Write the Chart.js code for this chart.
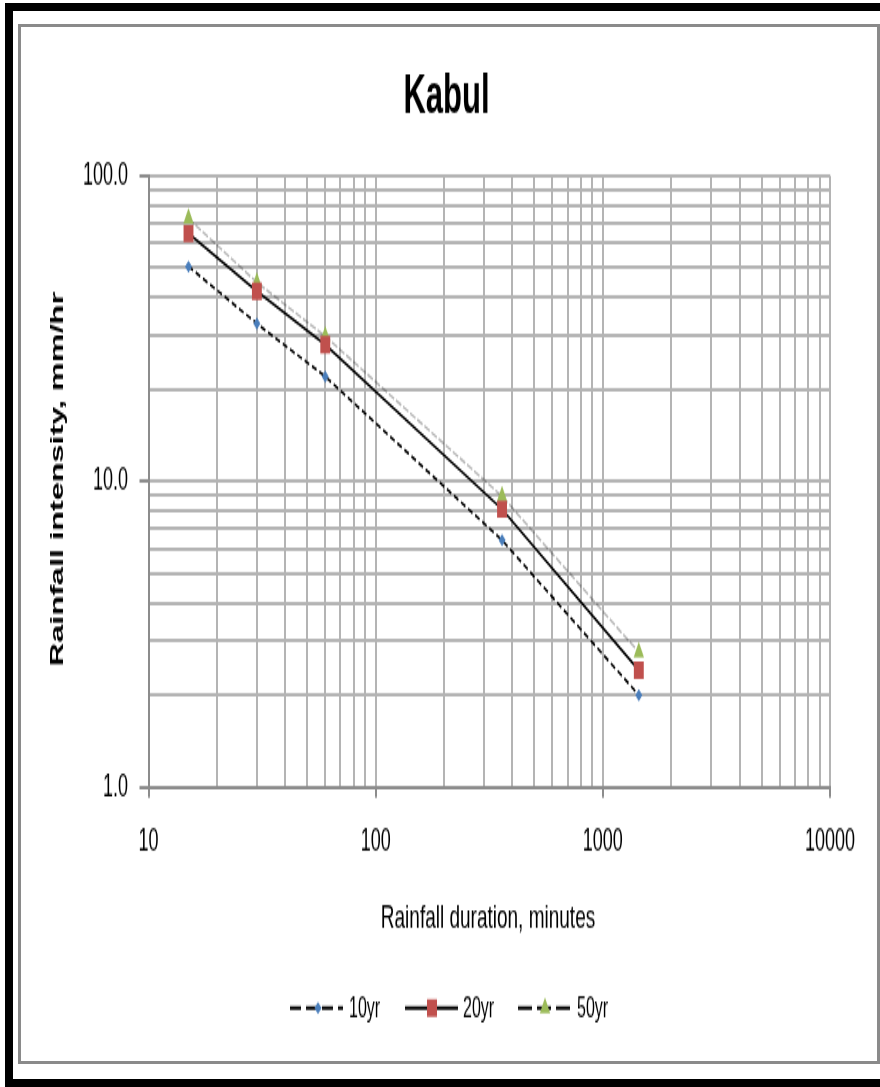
<!DOCTYPE html>
<html>
<head>
<meta charset="utf-8">
<script src="https://cdn.jsdelivr.net/npm/chart.js@4.4.1/dist/chart.umd.min.js"></script>
<style>
  body { margin: 0; background: #fff; width: 880px; height: 1087px; overflow: hidden; position: relative; }
  #outer { position: absolute; left: 5px; top: 3px; width: 900px; height: 1084px; box-sizing: border-box;
           border-left: 8px solid #000; border-top: 8px solid #000; border-bottom: 8px solid #000; }
  #frame { position: absolute; left: 18px; top: 24px; width: 862px; height: 1040px; box-sizing: border-box;
           border: 3px solid #8a8a8a; }
  #chart { position: absolute; left: 21px; top: 27px; }
</style>
</head>
<body>
<div id="outer"></div>
<div id="frame"></div>
<canvas id="chart" width="856" height="590" style="width:856px;height:1034px"></canvas>
<script>
// 데이터
const durations = [15, 30, 60, 360, 1440];
const intensity10yr = [50.4, 32.8, 22.0, 6.42, 2.0];
const intensity20yr = [64.6, 41.8, 28.0, 8.1, 2.41];
const intensity50yr = [72.3, 44.7, 29.8, 8.93, 2.76];
const seriesNames = ["10yr", "20yr", "50yr"];

const xTickValues = [10, 100, 1000, 10000];
const xTickLabels = ["10", "100", "1000", "10000"];
const yTickValues = [1, 10, 100];
const yTickLabels = ["1.0", "10.0", "100.0"];

const chartTitle = "Kabul";
const xTitle = "Rainfall duration, minutes";
const yTitle = "Rainfall intensity, mm/hr";

const FONT = '"Liberation Sans", Arial, sans-serif';
const colors = ["#4a7ebb", "#c0504d", "#9bbb59"];

// 캔버스는 세로로 늘려서 표시 (원본처럼 글자가 좁고 길게 보이도록)
const H = 590;
const S = 1034 / H;
const plotTop = (175.5 - 27) / S;
const plotBottom = (787 - 27) / S;

function logTicks(min, max) {
	const out = [];
	for (let p = min; p < max; p *= 10) {
		for (let m = 1; m < 10; m++) out.push({ value: m * p });
	}
	out.push({ value: max });
	return out;
}

function toPoints(values) {
	return durations.map((d, i) => ({ x: d, y: values[i] }));
}

// 제목, 축 제목, 범례 그리기
const textPlugin = {
	id: "texts",
	afterDraw(chart) {
		const ctx = chart.ctx;
		ctx.save();
		ctx.fillStyle = "#000";
		ctx.textAlign = "center";
		ctx.textBaseline = "alphabetic";

		ctx.font = "bold 31px " + FONT;
		ctx.fillText(chartTitle, 425.5, (113 - 27) / S);

		ctx.font = "19px " + FONT;
		ctx.fillText(xTitle, 467, (927 - 27) / S);

		ctx.save();
		ctx.translate(37, (479 - 27) / S);
		ctx.rotate(-Math.PI / 2);
		ctx.font = "bold 18.5px " + FONT;
		ctx.textBaseline = "middle";
		ctx.fillText(yTitle, 0, 0);
		ctx.restore();

		// 범례
		const ly = (1008 - 27) / S;
		const items = [
			{ x0: 269, x1: 322, mx: 297, tx: 328, dash: [11, 5], style: "rectRot" },
			{ x0: 384, x1: 437, mx: 411, tx: 442, dash: [], style: "rect" },
			{ x0: 497, x1: 549, mx: 524, tx: 556, dash: [14, 5], style: "triangle" },
		];
		items.forEach((it, i) => {
			ctx.strokeStyle = "#000";
			ctx.lineWidth = 2;
			ctx.setLineDash(it.dash);
			ctx.beginPath();
			ctx.moveTo(it.x0, ly);
			ctx.lineTo(it.x1, ly);
			ctx.stroke();
			ctx.setLineDash([]);
			ctx.fillStyle = colors[i];
			ctx.beginPath();
			if (it.style === "rect") {
				ctx.rect(it.mx - 5, ly - 5, 10, 10);
			} else if (it.style === "rectRot") {
				ctx.moveTo(it.mx - 3.5, ly);
				ctx.lineTo(it.mx, ly - 3.5);
				ctx.lineTo(it.mx + 3.5, ly);
				ctx.lineTo(it.mx, ly + 3.5);
			} else {
				ctx.moveTo(it.mx, ly - 6);
				ctx.lineTo(it.mx + 5.2, ly + 3);
				ctx.lineTo(it.mx - 5.2, ly + 3);
			}
			ctx.closePath();
			ctx.fill();
			ctx.fillStyle = "#000";
			ctx.textAlign = "left";
			ctx.font = "16px " + FONT;
			ctx.fillText(seriesNames[i], it.tx, (1018 - 27) / S);
		});
		ctx.restore();
	},
};

const ctx = document.getElementById("chart").getContext("2d");
new Chart(ctx, {
	type: "line",
	data: {
		datasets: [
			{
				label: seriesNames[0],
				data: toPoints(intensity10yr),
				borderColor: "#000",
				borderWidth: 1.6,
				borderDash: [5, 3],
				pointStyle: "rectRot",
				pointRadius: 3.5,
				pointBackgroundColor: colors[0],
				pointBorderWidth: 0,
			},
			{
				label: seriesNames[1],
				data: toPoints(intensity20yr),
				borderColor: "#000",
				borderWidth: 1.6,
				pointStyle: "rect",
				pointRadius: 7,
				pointBackgroundColor: colors[1],
				pointBorderWidth: 0,
			},
			{
				label: seriesNames[2],
				data: toPoints(intensity50yr),
				borderColor: "rgba(0,0,0,0.28)",
				borderWidth: 1.5,
				borderDash: [6, 2],
				pointStyle: "triangle",
				pointRadius: 6,
				pointBackgroundColor: colors[2],
				pointBorderWidth: 0,
			},
		],
	},
	options: {
		responsive: false,
		animation: false,
		devicePixelRatio: 1,
		layout: { padding: { left: 0, top: plotTop, right: 856 - 809, bottom: 0 } },
		plugins: {
			legend: { display: false },
			title: { display: false },
			tooltip: { enabled: false },
		},
		scales: {
			x: {
				type: "logarithmic",
				min: 10,
				max: 10000,
				afterBuildTicks: (axis) => { axis.ticks = logTicks(10, 10000); },
				afterFit: (axis) => { axis.height = H - plotBottom; },
				grid: {
					color: "#b4b4b4",
					lineWidth: 2,
					tickLength: 6,
					tickWidth: 2,
					tickColor: (c) => (xTickValues.includes(c.tick && c.tick.value) ? "#8c8c8c" : "rgba(0,0,0,0)"),
				},
				border: { color: "#8c8c8c", width: 2 },
				ticks: {
					autoSkip: false,
					maxRotation: 0,
					padding: 15,
					color: "#000",
					font: { family: FONT, size: 18 },
					callback: (v) => {
						const i = xTickValues.indexOf(v);
						return i >= 0 ? xTickLabels[i] : "";
					},
				},
			},
			y: {
				type: "logarithmic",
				min: 1,
				max: 100,
				afterBuildTicks: (axis) => { axis.ticks = logTicks(1, 100); },
				afterFit: (axis) => { axis.width = 127.5; },
				grid: {
					color: "#b4b4b4",
					lineWidth: 2,
					tickLength: 9,
					tickWidth: 2,
					tickColor: (c) => (yTickValues.includes(c.tick && c.tick.value) ? "#8c8c8c" : "rgba(0,0,0,0)"),
				},
				border: { color: "#8c8c8c", width: 2 },
				ticks: {
					autoSkip: false,
					padding: 11.5,
					color: "#000",
					font: { family: FONT, size: 18 },
					callback: (v) => {
						const i = yTickValues.indexOf(v);
						return i >= 0 ? yTickLabels[i] : "";
					},
				},
			},
		},
	},
	plugins: [textPlugin],
});
</script>
</body>
</html>
